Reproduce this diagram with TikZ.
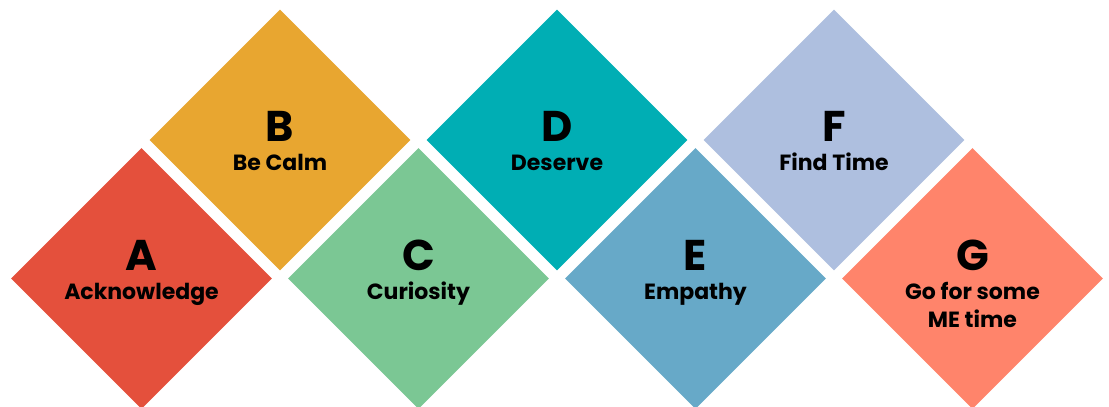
\documentclass[tikz,border=0pt]{standalone}
\usepackage{fontspec}
\setmainfont{Poppins}
\usetikzlibrary{shapes.geometric}

\definecolor{tileA}{HTML}{E4503C}
\definecolor{tileB}{HTML}{E8A630}
\definecolor{tileC}{HTML}{7BC794}
\definecolor{tileD}{HTML}{00AEB4}
\definecolor{tileE}{HTML}{67A9C8}
\definecolor{tileF}{HTML}{AEBFDF}
\definecolor{tileG}{HTML}{FF846B}

\begin{document}
\begin{tikzpicture}[x=1pt, y=-1pt,
    tile/.style={diamond, aspect=1, inner sep=0pt, minimum width=261pt, minimum height=261pt, fill=#1},
    letter/.style={anchor=base, inner sep=0pt, font=\fontsize{43}{43}\selectfont\bfseries},
    word/.style={anchor=base, inner sep=0pt, align=center, font=\fontsize{22}{28}\selectfont\bfseries}
  ]
  \useasboundingbox (0,0) rectangle (1109,407);

  % the seven tiles
  \node[tile=tileA] (a) at (141.5,278.5) {};
  \node[tile=tileB] (b) at (280,140) {};
  \node[tile=tileC] (c) at (418.5,278.5) {};
  \node[tile=tileD] (d) at (557,140) {};
  \node[tile=tileE] (e) at (695.5,278.5) {};
  \node[tile=tileF] (f) at (834,140) {};
  \node[tile=tileG] (g) at (972.5,278.5) {};

  % letters and words
  \node[letter] (aletter) at (141.5,270) {A};
  \node[word] (aword) at (141.5,299) {Acknowledge};
  \node[letter] (bletter) at (280,141) {B};
  \node[word] (bword) at (280,170) {Be Calm};
  \node[letter] (cletter) at (418.5,270) {C};
  \node[word] (cword) at (418.5,299) {Curiosity};
  \node[letter] (dletter) at (557,141) {D};
  \node[word] (dword) at (557,170) {Deserve};
  \node[letter] (eletter) at (695.5,270) {E};
  \node[word] (eword) at (695.5,299) {Empathy};
  \node[letter] (fletter) at (834,141) {F};
  \node[word] (fword) at (834,170) {Find Time};
  \node[letter] (gletter) at (972.5,270) {G};
  % base of a two-line node sits on its last line
  \node[word] (gword) at (972.5,327) {Go for some\\ME time};

\end{tikzpicture}
\end{document}
